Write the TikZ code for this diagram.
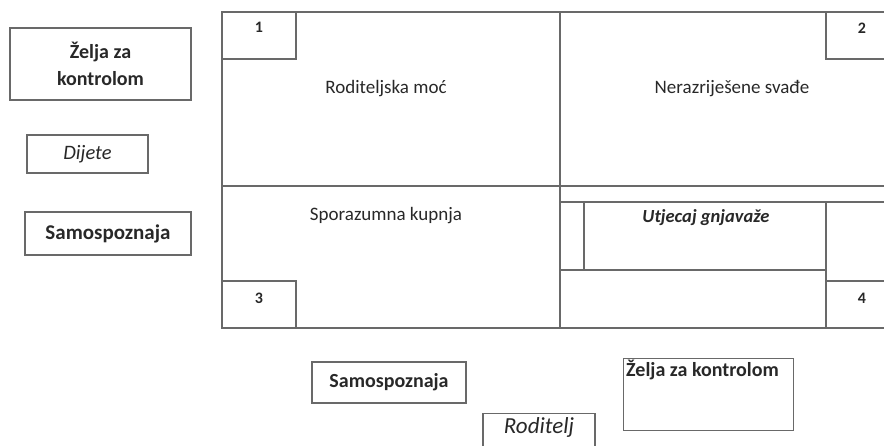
\documentclass[tikz,border=0pt]{standalone}
\usepackage{fontspec}
\setmainfont{Carlito}
\definecolor{ln}{RGB}{105,105,105}
\definecolor{tx}{RGB}{40,40,40}
\begin{document}
\begin{tikzpicture}[x=1pt,y=-1pt,
  gl/.style={draw=ln,line width=1.3pt},
  boxn/.style={draw=ln,line width=1.3pt,inner sep=0pt,text=tx,align=center},
  lbl/.style={inner sep=0pt,text=tx,align=center},
  num/.style={inner sep=0pt,text=tx,font=\bfseries\fontsize{16}{18}\selectfont}]
\useasboundingbox (0,0) rectangle (884,445);
% grid
\draw[gl] (884,12) -- (222,12) -- (222,328) -- (884,328);
\draw[gl] (560,12) -- (560,328);
\draw[gl] (222,186) -- (884,186);
\draw[gl] (560,202) -- (884,202);
\draw[gl] (584,202) -- (584,270);
\draw[gl] (560,270) -- (826,270);
\draw[gl] (826,202) -- (826,328);
\draw[gl] (826,281) -- (884,281);
\draw[gl] (222,12) rectangle (296,59);
\draw[gl] (826,12) -- (826,59) -- (884,59);
\draw[gl] (222,281) rectangle (296,328);
% numbers
\node[num] (n1) at (259,27) {1};
\node[num] (n2) at (862,28) {2};
\node[num] (n3) at (259,298) {3};
\node[num] (n4) at (862,298) {4};
% cell labels
\node[lbl,font=\fontsize{19}{22}\selectfont] (rm) at (386,89) {Roditeljska moć};
\node[lbl,font=\fontsize{19}{22}\selectfont] (ns) at (732,89) {Nerazriješene svađe};
\node[lbl,font=\fontsize{19}{22}\selectfont] (sk) at (386,216) {Sporazumna kupnja};
\node[lbl,font=\bfseries\itshape\fontsize{18.5}{22}\selectfont] (ug) at (706,218) {Utjecaj gnjavaže};
% left boxes
\node[boxn,minimum width=181pt,minimum height=72pt,font=\bfseries\fontsize{20}{27}\selectfont] (zk1) at (100.5,64) {Želja za\\kontrolom};
\node[boxn,minimum width=121pt,minimum height=38pt,font=\itshape\fontsize{20.5}{24}\selectfont] (dij) at (87.5,154) {Dijete};
\node[boxn,minimum width=166pt,minimum height=43pt,font=\bfseries\fontsize{21}{24}\selectfont] (sam1) at (108,233.5) {Samospoznaja};
% bottom boxes
\node[boxn,minimum width=154pt,minimum height=41pt,font=\bfseries\fontsize{20}{24}\selectfont] (sam2) at (389,382.5) {Samospoznaja};
\node[boxn,minimum width=112pt,minimum height=44pt,anchor=north] (rod) at (539,413) {};
\node[lbl,anchor=base,font=\itshape\fontsize{23}{27}\selectfont] (rodt) at (539,433) {Roditelj};
\node[boxn,minimum width=170pt,minimum height=72pt,anchor=north west] (zk2) at (623,358) {};
\node[lbl,anchor=base west,font=\bfseries\fontsize{20}{24}\selectfont] (zk2t) at (626,376) {Želja za kontrolom};
\end{tikzpicture}
\end{document}
